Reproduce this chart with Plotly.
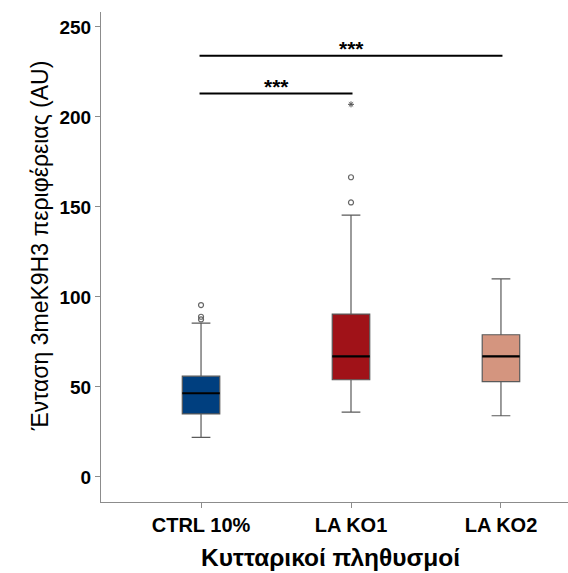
import plotly.graph_objects as go

groups = ["CTRL 10%", "LA KO1", "LA KO2"]
colors = ["#003F7F", "#A01218", "#D4957F"]
q1 = [35, 54, 53]
medians = [46.5, 67, 67]
q3 = [56, 90.5, 79]
lower = [22, 36, 34]
upper = [85.5, 145.5, 110]

# outliers (circles) and extreme values (star)
out_x = [0, 0, 0, 1, 1]
out_y = [87.5, 89, 95.5, 152.5, 166.5]
ext_x = [1]
ext_y = [207]

# significance brackets
sig_from = [0, 0]
sig_to = [1, 2]
sig_y = [213, 234]
sig_label = ["***", "***"]

bw = 0.25
font = "Liberation Sans, Arial, sans-serif"

fig = go.Figure()
for i, g in enumerate(groups):
    fig.add_trace(go.Box(
        x=[i], q1=[q1[i]], median=[medians[i]], q3=[q3[i]],
        lowerfence=[lower[i]], upperfence=[upper[i]],
        width=bw, whiskerwidth=0.5,
        fillcolor=colors[i], line=dict(color="#5a5a5a", width=1.2),
        boxpoints=False, showlegend=False, name=g
    ))
    fig.add_trace(go.Scatter(
        x=[i - bw / 2, i + bw / 2], y=[medians[i], medians[i]],
        mode="lines", line=dict(color="black", width=2.2),
        showlegend=False, hoverinfo="skip"
    ))

fig.add_trace(go.Scatter(
    x=out_x, y=out_y, mode="markers",
    marker=dict(symbol="circle-open", size=5, color="#666", line=dict(width=1.2)),
    showlegend=False
))
fig.add_trace(go.Scatter(
    x=ext_x, y=ext_y, mode="markers",
    marker=dict(symbol="asterisk-open", size=5, color="#555", line=dict(width=1)),
    showlegend=False
))

for a, b, h, lab in zip(sig_from, sig_to, sig_y, sig_label):
    fig.add_shape(type="line", x0=a - 0.01, x1=b + 0.01, y0=h, y1=h,
                  xref="x", yref="y", line=dict(color="black", width=2))
    fig.add_annotation(x=(a + b) / 2, y=h, text="<b>" + lab + "</b>", showarrow=False,
                       yanchor="bottom", yshift=-6, font=dict(size=21, color="black", family=font))

# axis titles
fig.add_annotation(text="Ένταση 3meK9H3 περιφέρειας (AU)", xref="paper", yref="paper",
                   x=0, y=0.522, xshift=-61, textangle=-90, showarrow=False,
                   xanchor="center", yanchor="middle", font=dict(size=23, family=font, color="black"))
fig.add_annotation(text="<b>Κυτταρικοί πληθυσμοί</b>", xref="paper", yref="paper",
                   x=0.492, y=-0.114, showarrow=False,
                   xanchor="center", yanchor="middle", font=dict(size=24.5, family=font, color="black"))

fig.update_layout(
    width=568, height=573,
    margin=dict(l=101, r=0, t=12, b=71),
    plot_bgcolor="white", paper_bgcolor="white",
    font=dict(family=font, color="black"),
    xaxis=dict(
        range=[-0.667, 2.447], tickvals=[0, 1, 2], ticktext=groups,
        showline=True, linecolor="#8c8c8c", linewidth=1.2, mirror=False,
        ticks="outside", ticklen=5, tickcolor="#8c8c8c",
        tickfont=dict(size=20, family=font, color="black", weight="bold"),
        showgrid=False, zeroline=False, automargin=False
    ),
    yaxis=dict(
        range=[-13.9, 258.3], tickvals=[0, 50, 100, 150, 200, 250],
        showline=True, linecolor="#8c8c8c", linewidth=1.2,
        ticks="outside", ticklen=5, tickcolor="#8c8c8c",
        tickfont=dict(size=19, family=font, color="black", weight="bold"),
        showgrid=False, zeroline=False, automargin=False
    )
)

fig.write_html("out.html", config={"displayModeBar": False},
               post_script="document.body.style.margin='0';")
